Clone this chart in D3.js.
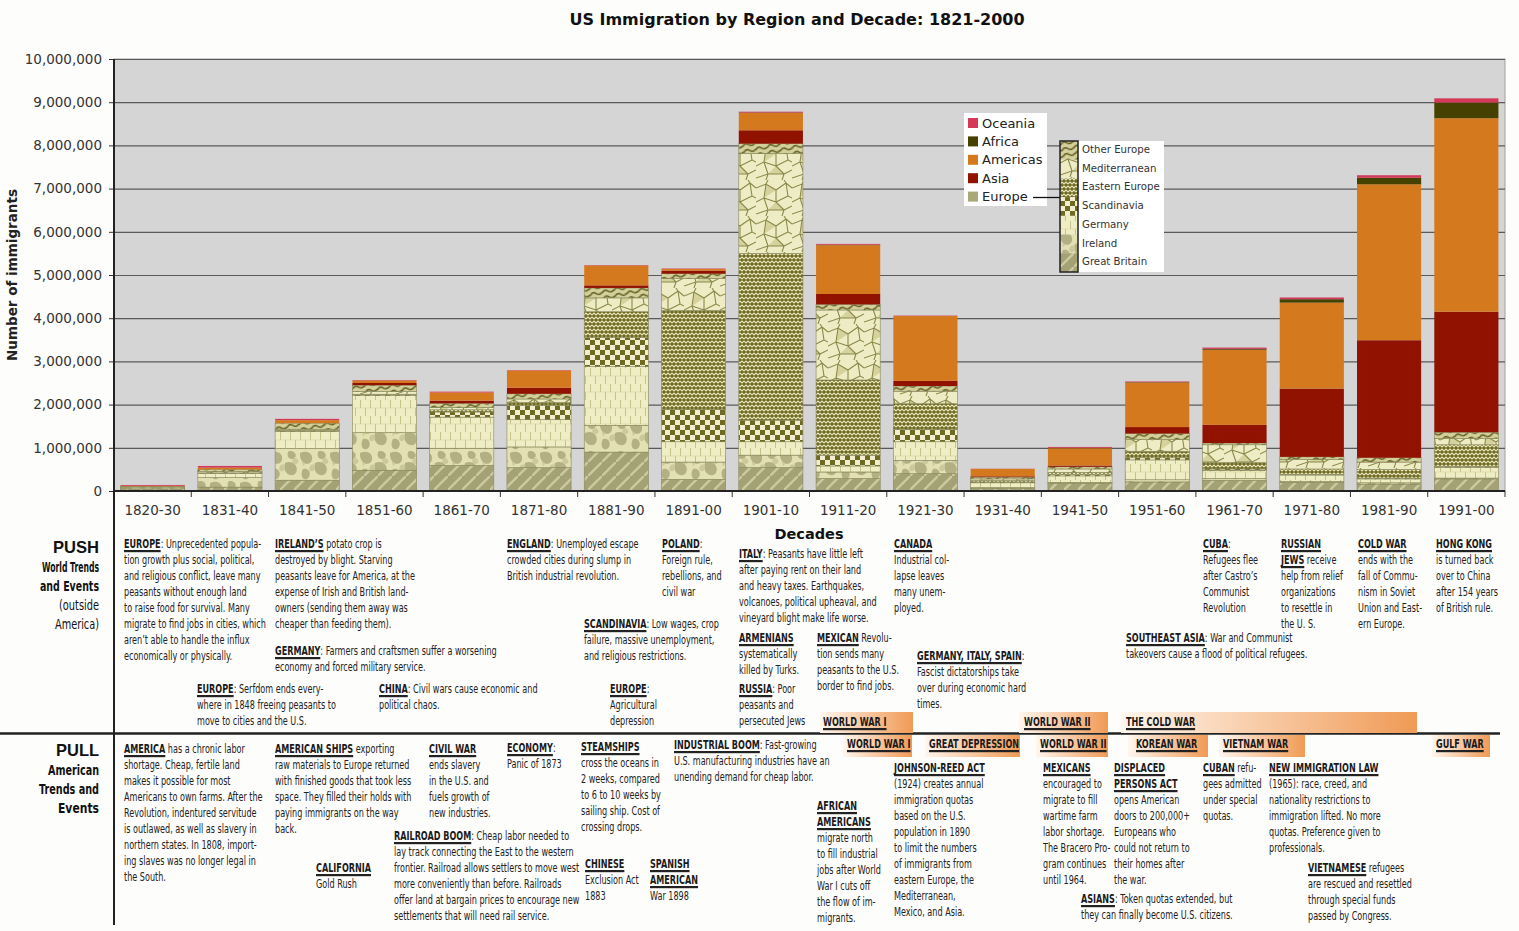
<!DOCTYPE html>
<html>
<head>
<meta charset="utf-8">
<script src="https://cdn.jsdelivr.net/npm/d3@7"></script>
<style>
body{margin:0;background:#fdfdfb;}
svg{display:block;}
.ax text{font-family:"DejaVu Sans",Verdana,sans-serif;font-size:13.5px;fill:#333;}
.bd{font-family:"Liberation Sans Narrow","DejaVu Sans Condensed",sans-serif;font-size:11.8px;fill:#222;}
.hd{font-family:"Liberation Sans Narrow","DejaVu Sans Condensed",sans-serif;font-size:11.8px;font-weight:bold;fill:#1a1a1a;}
</style>
</head>
<body>
<div id="chart"></div>
<script>
//--- data (thousands of immigrants) ---
var decades=["1820-30","1831-40","1841-50","1851-60","1861-70","1871-80","1881-90","1891-00","1901-10","1911-20","1921-30","1931-40","1941-50","1951-60","1961-70","1971-80","1981-90","1991-00"];
var greatBritain=[50,90,250,480,590,540,900,270,540,290,400,60,180,210,250,200,160,280];
var ireland=[40,220,730,870,400,480,620,400,290,150,310,20,20,50,40,20,30,20];
var germany=[10,100,400,860,720,630,1360,470,310,140,430,110,150,460,190,150,90,250];
var scandinavia=[0,10,10,20,120,330,670,750,500,250,290,20,30,50,30,10,20,20];
var easternEurope=[0,0,10,10,50,70,600,2290,3860,1740,590,30,50,150,150,130,200,500];
var mediterranean=[5,30,30,60,50,80,320,740,2310,1620,290,40,80,270,410,220,170,150];
var otherEurope=[5,50,140,150,100,120,230,110,230,130,120,40,50,140,40,60,100,140];
var asia=[0,0,0,50,60,140,60,70,310,240,120,20,30,150,420,1580,2720,2790];
var americas=[10,40,70,60,190,400,460,40,400,1130,1500,170,400,1030,1740,1990,3610,4480];
var africa=[0,0,0,0,0,0,0,0,10,10,0,0,10,10,20,80,150,360];
var oceania=[20,40,30,10,20,10,10,10,20,20,10,5,20,15,30,40,60,100];

var regions=["Great Britain","Ireland","Germany","Scandinavia","Eastern Europe","Mediterranean","Other Europe","Asia","Americas","Africa","Oceania"];
var regionValues=[greatBritain,ireland,germany,scandinavia,easternEurope,mediterranean,otherEurope,asia,americas,africa,oceania];
var yTicks=[0,1000000,2000000,3000000,4000000,5000000,6000000,7000000,8000000,9000000,10000000];
var legendMain=["Oceania","Africa","Americas","Asia","Europe"];
var legendEurope=["Other Europe","Mediterranean","Eastern Europe","Scandinavia","Germany","Ireland","Great Britain"];

//--- notes under the chart: *word* = bold underlined heading ---
var pushNotes=[
 {x:124,y:548,lines:["*EUROPE*: Unprecedented popula-","tion growth plus social, political,","and religious conflict, leave many","peasants without enough land","to raise food for survival. Many","migrate to find jobs in cities, which","aren’t able to handle the influx","economically or physically."]},
 {x:275,y:548,lines:["*IRELAND’S* potato crop is","destroyed by blight. Starving","peasants leave for America,  at the","expense of Irish and British land-","owners (sending them away was","cheaper than feeding them)."]},
 {x:275,y:655,lines:["*GERMANY*: Farmers and craftsmen suffer a worsening","economy and forced military service."]},
 {x:197,y:693,lines:["*EUROPE*: Serfdom ends every-","where in 1848 freeing peasants to","move to cities and the U.S."]},
 {x:379,y:693,lines:["*CHINA*: Civil wars cause economic and","political chaos."]},
 {x:507,y:548,lines:["*ENGLAND*: Unemployed escape","crowded cities during slump in","British industrial revolution."]},
 {x:662,y:548,lines:["*POLAND*:","Foreign rule,","rebellions, and","civil war"]},
 {x:584,y:628,lines:["*SCANDINAVIA*: Low wages, crop","failure, massive unemployment,","and religious restrictions."]},
 {x:610,y:693,lines:["*EUROPE*:","Agricultural","depression"]},
 {x:739,y:558,lines:["*ITALY*: Peasants have little left","after paying rent on their land","and heavy taxes. Earthquakes,","volcanoes, political upheaval, and","vineyard blight make life worse."]},
 {x:739,y:642,lines:["*ARMENIANS*","systematically","killed by Turks."]},
 {x:739,y:693,lines:["*RUSSIA*: Poor","peasants and","persecuted Jews"]},
 {x:817,y:642,lines:["*MEXICAN* Revolu-","tion sends many","peasants to the U.S.","border to find jobs."]},
 {x:894,y:548,lines:["*CANADA*","Industrial col-","lapse leaves","many unem-","ployed."]},
 {x:917,y:660,lines:["*GERMANY, ITALY, SPAIN*:","Fascist dictatorships take","over during economic hard","times."]},
 {x:1203,y:548,lines:["*CUBA*:","Refugees flee","after Castro’s","Communist","Revolution"]},
 {x:1281,y:548,lines:["*RUSSIAN*","*JEWS* receive","help from relief","organizations","to resettle in","the U. S."]},
 {x:1358,y:548,lines:["*COLD WAR*","ends with the","fall of Commu-","nism in Soviet","Union and East-","ern Europe."]},
 {x:1436,y:548,lines:["*HONG KONG*","is turned back","over to China","after 154 years","of British rule."]},
 {x:1126,y:642,lines:["*SOUTHEAST ASIA*: War and Communist","takeovers cause a flood of political refugees."]}
];
var pullNotes=[
 {x:124,y:753,lines:["*AMERICA* has a chronic labor","shortage. Cheap, fertile land","makes it possible for most","Americans to own farms. After the","Revolution, indentured servitude","is outlawed, as well as slavery in","northern states. In 1808, import-","ing slaves was no longer legal in","the South."]},
 {x:275,y:753,lines:["*AMERICAN SHIPS* exporting","raw materials to Europe returned","with finished goods that took less","space. They filled their holds with","paying immigrants on the way","back."]},
 {x:429,y:753,lines:["*CIVIL WAR*","ends slavery","in the U.S. and","fuels growth of","new industries."]},
 {x:507,y:752,lines:["*ECONOMY*:","Panic of 1873"]},
 {x:316,y:872,lines:["*CALIFORNIA*","Gold Rush"]},
 {x:394,y:840,lines:["*RAILROAD BOOM*: Cheap labor needed to","lay track connecting  the East to the western","frontier. Railroad allows settlers to move west","more conveniently than before. Railroads","offer land at bargain prices to encourage new","settlements that will need rail service."]},
 {x:581,y:751,lines:["*STEAMSHIPS*","cross the oceans in","2 weeks, compared","to 6 to 10 weeks by","sailing ship. Cost of","crossing drops."]},
 {x:585,y:868,lines:["*CHINESE*","Exclusion Act","1883"]},
 {x:650,y:868,lines:["*SPANISH*","*AMERICAN*","War 1898"]},
 {x:674,y:749,lines:["*INDUSTRIAL BOOM*: Fast-growing","U.S. manufacturing industries have an","unending demand  for cheap labor."]},
 {x:817,y:810,lines:["*AFRICAN*","*AMERICANS*","migrate north","to fill industrial","jobs after World","War I cuts off","the flow of im-","migrants."]},
 {x:894,y:772,lines:["*JOHNSON-REED ACT*","(1924) creates annual","immigration quotas","based on the U.S.","population in 1890","to limit the numbers","of immigrants from","eastern Europe, the","Mediterranean,","Mexico, and Asia."]},
 {x:1043,y:772,lines:["*MEXICANS*","encouraged to","migrate to fill","wartime farm","labor shortage.","The Bracero Pro-","gram continues","until 1964."]},
 {x:1114,y:772,lines:["*DISPLACED*","*PERSONS ACT*","opens American","doors to 200,000+","Europeans who","could not return to","their homes after","the war."]},
 {x:1203,y:772,lines:["*CUBAN* refu-","gees admitted","under special","quotas."]},
 {x:1269,y:772,lines:["*NEW IMMIGRATION LAW*","(1965): race, creed, and","nationality restrictions to","immigration lifted. No more","quotas. Preference given to","professionals."]},
 {x:1081,y:903,lines:["*ASIANS*: Token quotas extended, but","they can finally  become U.S. citizens."]},
 {x:1308,y:872,lines:["*VIETNAMESE* refugees","are rescued and resettled","through special funds","passed by Congress."]}
];
var pushBands=[{label:"WORLD WAR I",x0:820,x1:913,lx:823},{label:"WORLD WAR II",x0:1019,x1:1108,lx:1024},{label:"THE COLD WAR",x0:1121,x1:1417,lx:1126}];
var pullBands=[{label:"WORLD WAR I",x0:843,x1:912,lx:847},{label:"GREAT DEPRESSION",x0:925,x1:1020,lx:929},{label:"WORLD WAR II",x0:1036,x1:1108,lx:1040},{label:"KOREAN WAR",x0:1128,x1:1208,lx:1136},{label:"VIETNAM WAR",x0:1219,x1:1305,lx:1223},{label:"GULF WAR",x0:1432,x1:1490,lx:1436}];

//--- setup ---
var width=1519,height=931;
var plot={left:114,right:1505,top:59,bottom:491};
var font="'DejaVu Sans',Verdana,sans-serif";

var svg=d3.select("#chart").append("svg")
 .attr("width",width)
 .attr("height",height);
var defs=svg.append("defs");

var x=d3.scaleBand()
 .domain(decades)
 .range([plot.left,plot.right])
 .paddingInner(0.17)
 .paddingOuter(0.085);
var y=d3.scaleLinear()
 .domain([0,10000000])
 .range([plot.bottom,plot.top]);

//--- textures for the european sub-regions ---
function pattern(id,w,h,bg){
	var p=defs.append("pattern").attr("id",id).attr("patternUnits","userSpaceOnUse").attr("width",w).attr("height",h);
	p.append("rect").attr("width",w).attr("height",h).attr("fill",bg);
	return p;
}
var p=pattern("pGB",14,14,"#a4a274");
p.append("path").attr("d","M-3,17 L17,-3").attr("stroke","#cac9a0").attr("stroke-width",2.4);
p.append("path").attr("d","M-7,7 L7,-7 M7,21 L21,7").attr("stroke","#8e8c5c").attr("stroke-width",1);

p=pattern("pIreland",30,30,"#e3e1b3");
p.append("path").attr("fill","#b3b183").attr("d","M0,3 C8,-1 15,5 11,12 C6,17 -1,11 0,3Z M15,13 C24,9 30,18 25,24 C19,28 12,21 15,13Z M3,19 C10,17 12,26 7,29 C2,31 0,24 3,19Z M19,1 C26,0 28,7 23,9 C18,10 16,4 19,1Z");
p.append("path").attr("fill","#cbc99b").attr("d","M11,15 C15,13 17,18 13,21 C9,22 8,18 11,15Z M24,8 C29,8 30,13 26,14 C22,14 21,10 24,8Z M2,12 C5,11 6,15 3,16Z");

p=pattern("pGermany",10,16,"#efedc3");
p.append("path").attr("d","M0.5,0 V8 M5.5,8 V16").attr("stroke","#c6c28c").attr("stroke-width",1);
p.append("path").attr("d","M0,8 H10").attr("stroke","#d9d6a6").attr("stroke-width",0.7);

p=pattern("pScand",10,10,"#f1efcf");
p.append("rect").attr("width",5).attr("height",5).attr("fill","#6e6a22");
p.append("rect").attr("x",5).attr("y",5).attr("width",5).attr("height",5).attr("fill","#6e6a22");

p=pattern("pEast",8,8,"#6f6b25");
p.append("path").attr("d","M0,3 L2,1 L4,3 L6,1 L8,3 M0,5 L2,7 L4,5 L6,7 L8,5").attr("fill","none").attr("stroke","#ebe8bd").attr("stroke-width",1.1);

p=pattern("pMed",36,36,"#eeecc4");
p.append("path").attr("fill","#d5d29e").attr("d","M10,4 L20,10 L8,18Z M20,22 L28,30 L12,30Z");
p.append("path").attr("fill","none").attr("stroke","#8b894a").attr("stroke-width",1.1)
 .attr("d","M0,8 L10,4 L20,10 L30,3 L36,8 M10,4 L8,18 L0,22 M8,18 L20,22 L20,10 M20,22 L28,30 L36,26 M30,3 L32,16 L36,18 M32,16 L20,22 M8,18 L12,30 L0,34 M12,30 L28,30 M28,30 L26,36 M12,30 L10,36 M10,4 L12,0 M30,3 L28,0");

p=pattern("pOther",12,6,"#d3d09c").attr("patternTransform","rotate(-12)");
p.append("path").attr("d","M0,4 Q3,0 6,3 T12,3").attr("fill","none").attr("stroke","#5e5a1c").attr("stroke-width",1.4);

var fills={"Great Britain":"url(#pGB)","Ireland":"url(#pIreland)","Germany":"url(#pGermany)","Scandinavia":"url(#pScand)",
 "Eastern Europe":"url(#pEast)","Mediterranean":"url(#pMed)","Other Europe":"url(#pOther)",
 "Asia":"#921200","Americas":"#d5791e","Africa":"#454100","Oceania":"#d33a5a","Europe":"#a9a878"};

//--- plot area, grid, axes ---
svg.append("rect")
 .attr("x",plot.left).attr("y",plot.top)
 .attr("width",plot.right-plot.left).attr("height",plot.bottom-plot.top)
 .attr("fill","#d5d5d5").attr("stroke","#a0a0a0");

var yAxis=svg.append("g")
 .attr("class","ax")
 .attr("transform","translate("+plot.left+",0)")
 .call(d3.axisLeft(y).tickValues(yTicks).tickFormat(d3.format(",")).tickSize(-(plot.right-plot.left)).tickPadding(12));
yAxis.select(".domain").remove();
yAxis.selectAll("line").attr("stroke","#5a5a5a").attr("stroke-width",1.2);
yAxis.selectAll(".tick").append("line").attr("x1",-5).attr("x2",0).attr("stroke","#333");

//--- stacked bars ---
var rows=decades.map(function(d,i){
	var r={decade:d};
	regions.forEach(function(k,j){ r[k]=regionValues[j][i]*1000; });
	return r;
});
var series=d3.stack().keys(regions)(rows);

var layer=svg.append("g").selectAll("g")
 .data(series)
 .enter().append("g")
 .attr("fill",function(s){ return fills[s.key]; })
 .attr("stroke",function(s,i){ return i<7?"#86865a":"none"; })
 .attr("stroke-width",0.6);

layer.selectAll("rect")
 .data(function(s){ return s; })
 .enter().append("rect")
 .attr("x",function(d){ return x(d.data.decade); })
 .attr("y",function(d){ return y(d[1]); })
 .attr("width",x.bandwidth())
 .attr("height",function(d){ return Math.max(0,y(d[0])-y(d[1])); });

// x axis: labels under bars, ticks at the band edges
var xAxis=svg.append("g")
 .attr("class","ax")
 .attr("transform","translate(0,"+plot.bottom+")")
 .call(d3.axisBottom(x).tickSize(0).tickPadding(14));
xAxis.select(".domain").remove();
var edges=decades.map(function(d){ return x(d)-(x.step()-x.bandwidth())/2; }).concat([plot.right]);
svg.append("g").selectAll("line")
 .data(edges)
 .enter().append("line")
 .attr("x1",function(d){ return d; }).attr("x2",function(d){ return d; })
 .attr("y1",plot.bottom).attr("y2",plot.bottom+6)
 .attr("stroke","#333");
svg.append("line").attr("x1",plot.left).attr("x2",plot.right).attr("y1",plot.bottom).attr("y2",plot.bottom).attr("stroke","#222").attr("stroke-width",2);
svg.append("line").attr("x1",plot.left).attr("x2",plot.left).attr("y1",plot.top).attr("y2",925).attr("stroke","#222").attr("stroke-width",2);

//--- titles ---
svg.append("text").attr("x",797).attr("y",25).attr("text-anchor","middle")
 .style("font-family",font).style("font-weight","bold").style("font-size","16px").attr("fill","#111")
 .text("US Immigration by Region and Decade: 1821-2000");
svg.append("text").attr("transform","translate(17,275) rotate(-90)").attr("text-anchor","middle")
 .style("font-family",font).style("font-weight","bold").style("font-size","13.5px").attr("fill","#222")
 .text("Number of immigrants");
svg.append("text").attr("x",809).attr("y",539).attr("text-anchor","middle")
 .style("font-family",font).style("font-weight","bold").style("font-size","14.5px").attr("fill","#111")
 .text("Decades");

//--- legends ---
var lg=svg.append("g").attr("transform","translate(964,113)");
lg.append("rect").attr("width",83).attr("height",93).attr("fill","#fff");
var li=lg.selectAll(".li").data(legendMain).enter().append("g")
 .attr("transform",function(d,i){ return "translate(4,"+(5+i*18.4)+")"; });
li.append("rect").attr("width",10).attr("height",10).attr("fill",function(d){ return fills[d]; });
li.append("text").attr("x",14).attr("y",9.5).style("font-family",font).style("font-size","13px").attr("fill","#222").text(function(d){ return d; });
svg.append("line").attr("x1",1033).attr("x2",1060).attr("y1",197.5).attr("y2",197.5).attr("stroke","#111").attr("stroke-width",1.3);

var lg2=svg.append("g").attr("transform","translate(1060,141)");
lg2.append("rect").attr("x",18).attr("width",86).attr("height",131).attr("fill","#fff");
var seg=131/legendEurope.length;
lg2.selectAll(".sw").data(legendEurope).enter().append("rect")
 .attr("y",function(d,i){ return i*seg; }).attr("width",18).attr("height",seg)
 .attr("fill",function(d){ return fills[d]; });
lg2.append("rect").attr("width",18).attr("height",131).attr("fill","none").attr("stroke","#222").attr("stroke-width",1.5);
lg2.selectAll(".lt").data(legendEurope).enter().append("text")
 .attr("x",22).attr("y",function(d,i){ return i*seg+12; })
 .style("font-family",font).style("font-size","10.2px").attr("fill","#333")
 .text(function(d){ return d; });

//--- notes panel ---
var probe=svg.append("text").attr("class","bd").text("tion growth plus social, political,");
var sx=130.5/probe.node().getComputedTextLength();
probe.remove();

function drawNote(g,n){
	var blk=g.append("g").attr("transform","translate("+n.x+","+n.y+") scale("+sx+",1)");
	n.lines.forEach(function(line,i){
		var cx=0;
		line.split("*").forEach(function(part,j){
			if(!part) return;
			var bold=(j%2==1);
			var t=blk.append("text").attr("class",bold?"hd":"bd").attr("x",cx).attr("y",i*16)
			 .text(part.replace(/^ /,"\u00a0").replace(/ $/,"\u00a0"));
			var w=t.node().getComputedTextLength();
			if(bold) blk.append("rect").attr("x",cx).attr("y",i*16+2).attr("width",w).attr("height",2.2).attr("fill","#222");
			cx+=w;
		});
	});
}

var grad=defs.append("linearGradient").attr("id","bandGrad");
grad.append("stop").attr("offset","0%").attr("stop-color","#fff6ee");
grad.append("stop").attr("offset","100%").attr("stop-color","#f09a55");

function drawBands(bands,top,h,base){
	var g=svg.append("g");
	g.selectAll("rect").data(bands).enter().append("rect")
	 .attr("x",function(d){ return d.x0; }).attr("y",top)
	 .attr("width",function(d){ return d.x1-d.x0; }).attr("height",h)
	 .attr("fill","url(#bandGrad)");
	bands.forEach(function(b){ drawNote(g,{x:b.lx,y:base,lines:["*"+b.label+"*"]}); });
}

svg.append("line").attr("x1",0).attr("x2",1500).attr("y1",733.5).attr("y2",733.5).attr("stroke","#222").attr("stroke-width",2.6);
drawBands(pushBands,712,21,726);
drawBands(pullBands,735,22,748);

var notes=svg.append("g");
pushNotes.concat(pullNotes).forEach(function(n){ drawNote(notes,n); });

// row headings on the left
var sideFont="'Liberation Sans Narrow','DejaVu Sans Condensed',sans-serif";
function side(lines){
	lines.forEach(function(l){
		var t=svg.append("text").attr("x",99).attr("y",l.y).attr("text-anchor","end")
		 .style("font-family",l.big?"'Liberation Sans',Arial,sans-serif":sideFont)
		 .style("font-size",l.big?"17px":"14.5px")
		 .style("font-weight",l.w).attr("fill","#111").text(l.t);
		t.attr("textLength",l.len).attr("lengthAdjust","spacingAndGlyphs");
	});
}
side([{t:"PUSH",y:553,big:true,w:900,len:46},{t:"World Trends",y:572,w:"bold",len:57},{t:"and Events",y:591,w:"bold",len:59},
 {t:"(outside",y:610,w:"normal",len:40},{t:"America)",y:629,w:"normal",len:44}]);
side([{t:"PULL",y:756,big:true,w:900,len:43},{t:"American",y:775,w:"bold",len:51},{t:"Trends and",y:794,w:"bold",len:60},{t:"Events",y:813,w:"bold",len:41}]);
</script>
</body>
</html>
